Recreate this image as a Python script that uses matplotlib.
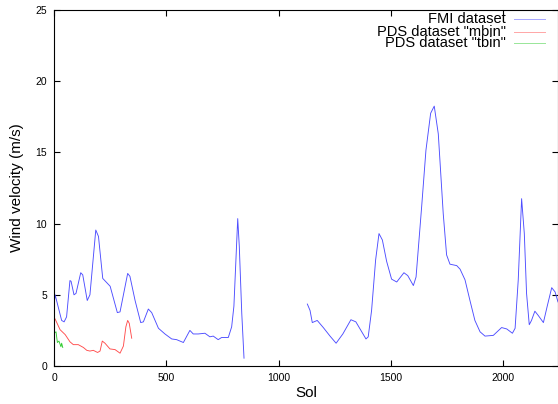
import numpy as np
import matplotlib
matplotlib.use("Agg")
import matplotlib.pyplot as plt

plt.rcParams['font.family'] = ['Liberation Sans', 'DejaVu Sans']

# FMI dataset, two segments (gap between ~850 and ~1125)
fmi_sol_1 = [0, 5, 34, 45, 56, 71, 76, 89, 98, 119, 128, 148, 160, 186, 198, 217, 235, 250,
             282, 294, 328, 338, 361, 386, 398, 420, 435, 465, 494, 524, 546, 576, 605, 620,
             642, 672, 694, 709, 731, 746, 776, 791, 801, 818, 825, 836, 846]
fmi_wind_1 = [4.3, 5.0, 3.2, 3.1, 3.45, 6.0, 5.95, 5.0, 5.1, 6.55, 6.4, 4.6, 5.0, 9.55, 9.1,
              6.15, 5.85, 5.6, 3.75, 3.8, 6.5, 6.3, 4.6, 3.05, 3.1, 4.0, 3.75, 2.65, 2.25, 1.9,
              1.85, 1.65, 2.5, 2.25, 2.25, 2.3, 2.05, 2.1, 1.85, 2.0, 2.0, 2.75, 4.2, 10.35,
              8.4, 3.7, 0.55]
fmi_sol_2 = [1128, 1140, 1150, 1172, 1199, 1229, 1256, 1286, 1322, 1344, 1389, 1399, 1414,
             1432, 1447, 1462, 1481, 1503, 1526, 1558, 1575, 1600, 1612, 1637, 1656, 1677,
             1693, 1711, 1733, 1748, 1763, 1793, 1808, 1830, 1852, 1874, 1897, 1919, 1956,
             1993, 2016, 2041, 2053, 2067, 2082, 2094, 2104, 2116, 2126, 2141, 2156, 2179,
             2196, 2216, 2231, 2244]
fmi_wind_2 = [4.35, 3.9, 3.05, 3.2, 2.7, 2.1, 1.6, 2.25, 3.25, 3.1, 1.9, 2.05, 3.9, 7.45,
              9.3, 8.85, 7.35, 6.1, 5.9, 6.55, 6.35, 5.65, 6.25, 11.2, 15.15, 17.75, 18.25,
              16.3, 10.7, 7.8, 7.15, 7.05, 6.8, 6.05, 4.6, 3.2, 2.4, 2.1, 2.15, 2.7, 2.6, 2.3,
              2.65, 6.05, 11.75, 9.3, 5.1, 2.9, 3.2, 3.85, 3.55, 3.05, 4.2, 5.5, 5.2, 4.5]

# PDS dataset "mbin"
mbin_sol = [0, 5, 27, 50, 71, 86, 108, 131, 146, 160, 175, 194, 205, 215, 227, 249, 272,
            294, 309, 320, 328, 335, 346]
mbin_wind = [3.4, 3.3, 2.55, 2.2, 1.7, 1.5, 1.5, 1.3, 1.1, 1.05, 1.1, 0.95, 1.05, 1.75, 1.6,
             1.2, 1.15, 0.9, 1.4, 2.75, 3.2, 3.0, 1.95]

# PDS dataset "tbin"
tbin_sol = [0, 9, 15, 22, 31, 34, 39]
tbin_wind = [2.3, 2.4, 1.65, 1.75, 1.35, 1.6, 1.3]

labels = ['FMI dataset', 'PDS dataset "mbin"', 'PDS dataset "tbin"']
colors = ['#4d4dff', '#ff4d4d', '#33cc33']

fig = plt.figure(figsize=(5.58, 4.04), dpi=100)
ax = fig.add_axes([54 / 558, 38 / 404, 504 / 558, 356 / 404])

ax.plot(fmi_sol_1, fmi_wind_1, color=colors[0], lw=0.65)
ax.plot(fmi_sol_2, fmi_wind_2, color=colors[0], lw=0.65)
ax.plot(mbin_sol, mbin_wind, color=colors[1], lw=0.65)
ax.plot(tbin_sol, tbin_wind, color=colors[2], lw=0.65)

ax.set_xlim(0, 2244)
ax.set_ylim(0, 25)
ax.set_xticks([0, 500, 1000, 1500, 2000])
ax.set_yticks([0, 5, 10, 15, 20, 25])
ax.tick_params(direction='in', length=4, width=0.8, top=True, right=True,
               labelsize=7.5, pad=5)
for s in ax.spines.values():
    s.set_linewidth(0.8)

ax.set_xlabel('Sol', fontsize=11, labelpad=2)
ax.set_ylabel('Wind velocity (m/s)', fontsize=11, labelpad=8)

# legend, gnuplot style: text right-aligned, sample to the right
leg_y = [19, 32, 43]
for lab, col, yy in zip(labels, colors, leg_y):
    yf = 1 - yy / 404
    fig.text(506 / 558, yf, lab, ha='right', va='center', fontsize=10.5)
    fig.add_artist(plt.Line2D([514 / 558, 545 / 558], [yf, yf], color=col, lw=0.7,
                              alpha=0.5, transform=fig.transFigure))

fig.savefig('out.png', dpi=100)
